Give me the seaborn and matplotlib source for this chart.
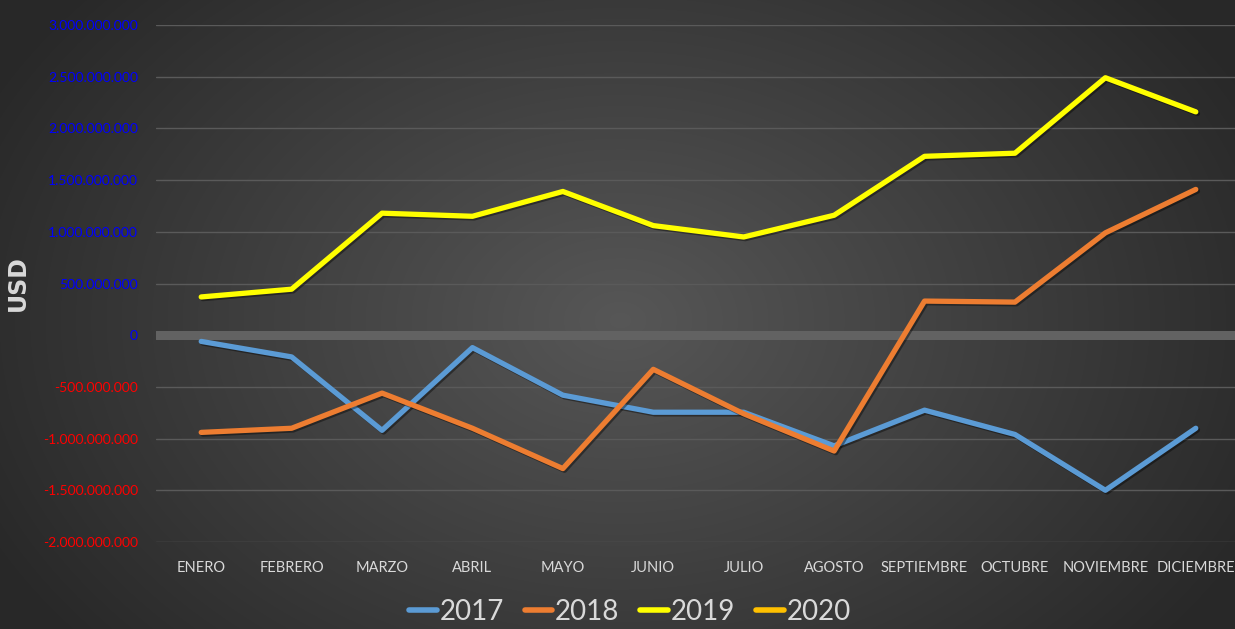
import numpy as np
import pandas as pd
import matplotlib
matplotlib.use("Agg")
import matplotlib.pyplot as plt
import matplotlib.patheffects as pe
from matplotlib.lines import Line2D
from matplotlib.ticker import FuncFormatter
import seaborn as sns

# monthly balance in USD
months = ["ENERO", "FEBRERO", "MARZO", "ABRIL", "MAYO", "JUNIO", "JULIO",
          "AGOSTO", "SEPTIEMBRE", "OCTUBRE", "NOVIEMBRE", "DICIEMBRE"]
v2017 = [-0.06e9, -0.21e9, -0.92e9, -0.12e9, -0.58e9, -0.745e9, -0.745e9,
         -1.07e9, -0.725e9, -0.96e9, -1.50e9, -0.90e9]
v2018 = [-0.94e9, -0.90e9, -0.56e9, -0.90e9, -1.29e9, -0.33e9, -0.76e9,
         -1.12e9, 0.33e9, 0.32e9, 0.99e9, 1.41e9]
v2019 = [0.37e9, 0.445e9, 1.18e9, 1.15e9, 1.39e9, 1.06e9, 0.95e9,
         1.16e9, 1.73e9, 1.76e9, 2.49e9, 2.16e9]
years = ["2017", "2018", "2019", "2020"]
colors = ["#5B9BD5", "#ED7D31", "#FFFF00", "#FFC000"]
yticks = np.arange(-2e9, 3.01e9, 0.5e9)

df = pd.DataFrame({
    "mes": months * 3,
    "pos": list(range(12)) * 3,
    "valor": v2017 + v2018 + v2019,
    "anio": ["2017"] * 12 + ["2018"] * 12 + ["2019"] * 12,
})

sns.set_style("dark")
plt.rcParams['font.family'] = ['Lato', 'DejaVu Sans']

W, H = 1235, 629
fig = plt.figure(figsize=(W / 100, H / 100), dpi=100)

# radial gradient background
yy, xx = np.mgrid[0:H, 0:W]
r = np.sqrt(((xx - 620) / 700) ** 2 + ((yy - 320) / 500) ** 2)
r = np.clip(r, 0, 1)
c = 0.34 - 0.18 * r
bg = np.dstack([c, c, c])
fig.figimage(bg, 0, 0, origin="upper", zorder=-5)

ax = fig.add_axes([156 / W, 1 - 542 / H, 1085 / W, 517 / H])
ax.set_zorder(2)
ax.patch.set_alpha(0)

shadow = [pe.SimpleLineShadow(offset=(1.2, -1.2), shadow_color="black", alpha=0.4), pe.Normal()]
sns.lineplot(data=df, x="pos", y="valor", hue="anio", hue_order=years[:3],
             palette=colors[:3], linewidth=3.8, ax=ax, legend=False)
for ln in ax.lines:
    ln.set_path_effects(shadow)
    ln.set_solid_capstyle("round")
    ln.set_zorder(3)

ax.set_xlim(-0.5, 11.5)
ax.set_ylim(-2e9, 3e9)
ax.set_xticks(range(12))
ax.set_xticklabels(months, color="#d9d9d9", fontsize=10.5)
ax.set_yticks(yticks)
ax.yaxis.set_major_formatter(FuncFormatter(lambda v, p: f"{int(round(v)):,}".replace(",", ".")))
for lab, v in zip(ax.get_yticklabels(), yticks):
    lab.set_color("#0000FF" if v >= 0 else "#FF0000")
    lab.set_fontsize(10)
ax.tick_params(axis="y", length=0, pad=13)
ax.tick_params(axis="x", length=0, pad=14)
ax.grid(axis="y", color="#5a5a5a", linewidth=1)
ax.grid(axis="x", visible=False)
ax.axhline(0, color="#626262", linewidth=6.5, zorder=1)
for s in ax.spines.values():
    s.set_visible(False)

ax.set_xlabel("")
ax.set_ylabel("USD", color="#d9d9d9", fontsize=17, fontweight="bold",
              family=["DejaVu Sans"])
ax.yaxis.set_label_coords(-0.116, 0.5)

handles = [Line2D([0], [0], color=c_, linewidth=4, solid_capstyle="round") for c_ in colors]
fig.legend(handles, years, loc="center", bbox_to_anchor=(0.51, 0.027), ncol=4,
           frameon=False, fontsize=20, labelcolor="#d9d9d9", handlelength=1.0,
           handletextpad=0.1, columnspacing=0.75)

fig.savefig("out.png", dpi=100)
